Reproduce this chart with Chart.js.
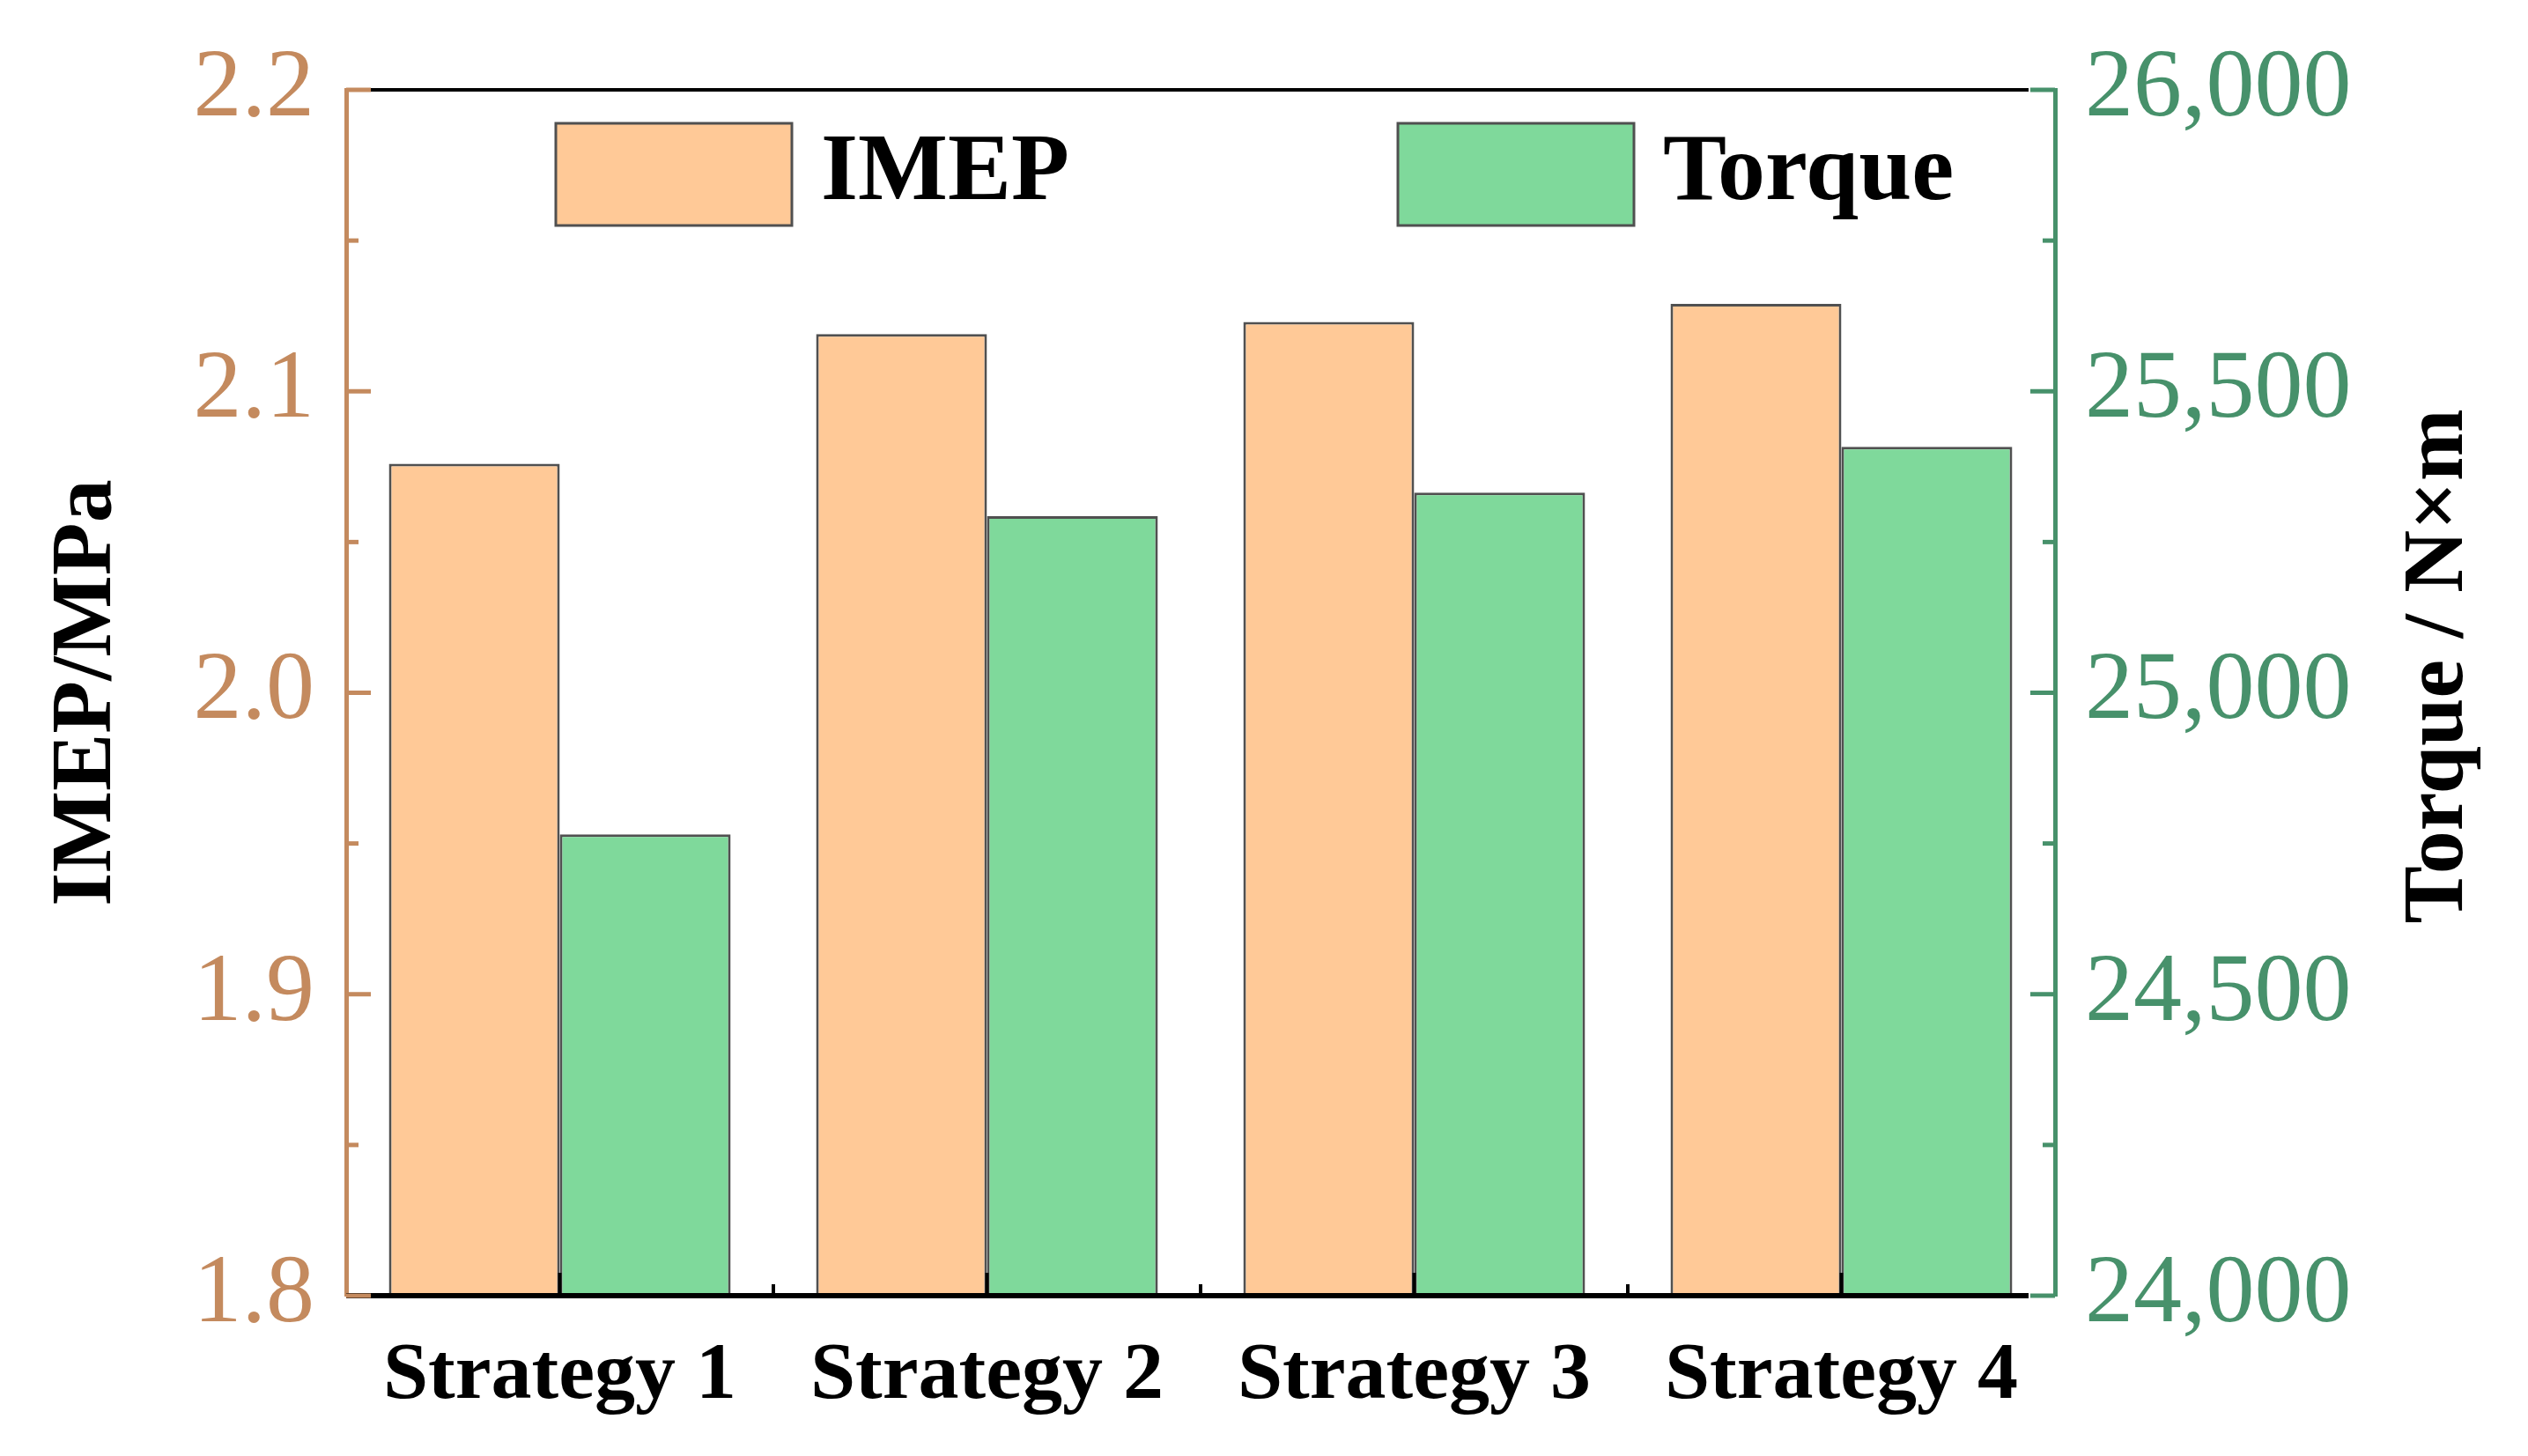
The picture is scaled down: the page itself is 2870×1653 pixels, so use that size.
<!DOCTYPE html>
<html><head><meta charset="utf-8">
<script src="https://cdn.jsdelivr.net/npm/chart.js@4.4.1/dist/chart.umd.min.js"></script>
<style>html,body{margin:0;padding:0;background:#fff}#wrap{width:2870px;height:1653px}</style>
</head><body><div id="wrap"><canvas id="c" width="2870" height="1653"></canvas></div>
<script>
const categories = ['Strategy 1', 'Strategy 2', 'Strategy 3', 'Strategy 4'];
const imepValues = [2.076, 2.119, 2.123, 2.129];
const torqueValues = [24765, 25293, 25332, 25408];
const seriesNames = ['IMEP', 'Torque'];
const leftRange = [1.8, 2.2];
const rightRange = [24000, 26000];
const leftTitle = 'IMEP/MPa';
const rightTitle = 'Torque / N×m';

const TAN = '#C48A5E';
const GREEN = '#47916B';
const FILL_ORANGE = '#FFC997';
const FILL_GREEN = '#7FD99B';
const EDGE = '#505050';
const SERIF = '"Liberation Serif", "Times New Roman", serif';

function seg(ctx, x1, y1, x2, y2) { ctx.beginPath(); ctx.moveTo(x1, y1); ctx.lineTo(x2, y2); ctx.stroke(); }

const decor = {
  id: 'decor',
  afterDatasetsDraw(chart) {
    const { ctx, chartArea: a, scales } = chart;
    const yL = scales.y, yR = scales.y1, x = scales.x;
    ctx.save();
    ctx.strokeStyle = '#000';
    ctx.lineWidth = 4;
    seg(ctx, a.left, a.top, a.right - 30, a.top);
    ctx.lineWidth = 6;
    seg(ctx, a.left, a.bottom, a.right - 30, a.bottom);
    ctx.strokeStyle = TAN; ctx.lineWidth = 5;
    const lStep = 0.05;
    for (let k = 0; k <= Math.round((leftRange[1] - leftRange[0]) / lStep); k++) {
      const v = leftRange[0] + k * lStep;
      const p = yL.getPixelForValue(v);
      seg(ctx, a.left, p, a.left + (k % 2 === 0 ? 28 : 14), p);
    }
    ctx.strokeStyle = GREEN; ctx.lineWidth = 5;
    const rStep = 250;
    for (let k = 0; k <= Math.round((rightRange[1] - rightRange[0]) / rStep); k++) {
      const v = rightRange[0] + k * rStep;
      const p = yR.getPixelForValue(v);
      seg(ctx, a.right, p, a.right - (k % 2 === 0 ? 28 : 14), p);
    }
    ctx.strokeStyle = '#000'; ctx.lineWidth = 4;
    const centers = categories.map((_, i) => x.getPixelForValue(i));
    centers.forEach(c => seg(ctx, c, a.bottom, c, a.bottom - 26));
    for (let i = 0; i < centers.length - 1; i++) {
      const b = (centers[i] + centers[i + 1]) / 2;
      seg(ctx, b, a.bottom, b, a.bottom - 13);
    }
    ctx.restore();
  },
  afterDraw(chart) {
    const { ctx, chartArea: a } = chart;
    ctx.save();
    const items = [
      { label: seriesNames[0], fill: FILL_ORANGE, bx: a.left + 238 },
      { label: seriesNames[1], fill: FILL_GREEN, bx: a.left + 1194 }
    ];
    ctx.font = 'bold 108px ' + SERIF;
    ctx.textBaseline = 'middle';
    ctx.textAlign = 'left';
    items.forEach(it => {
      const by = a.top + 38, bw = 268, bh = 116;
      ctx.fillStyle = it.fill;
      ctx.fillRect(it.bx, by, bw, bh);
      ctx.strokeStyle = EDGE; ctx.lineWidth = 3;
      ctx.strokeRect(it.bx, by, bw, bh);
      ctx.fillStyle = '#000';
      ctx.fillText(it.label, it.bx + bw + 33, by + bh / 2);
    });
    ctx.fillStyle = '#000';
    ctx.font = 'bold 98px ' + SERIF;
    ctx.textAlign = 'center';
    ctx.textBaseline = 'middle';
    ctx.save();
    ctx.translate(100, (a.top + a.bottom) / 2);
    ctx.rotate(-Math.PI / 2);
    ctx.fillText(leftTitle, 0, 0);
    ctx.restore();
    ctx.save();
    ctx.translate(2770, (a.top + a.bottom) / 2 - 30);
    ctx.rotate(-Math.PI / 2);
    ctx.fillText(rightTitle, 0, 0);
    ctx.restore();
    ctx.restore();
  }
};

new Chart(document.getElementById('c'), {
  type: 'bar',
  data: {
    labels: categories,
    datasets: [
      { label: seriesNames[0], data: imepValues, yAxisID: 'y', backgroundColor: FILL_ORANGE,
        borderColor: EDGE, borderWidth: 3, borderSkipped: false, categoryPercentage: 0.8, barPercentage: 1.0 },
      { label: seriesNames[1], data: torqueValues, yAxisID: 'y1', backgroundColor: FILL_GREEN,
        borderColor: EDGE, borderWidth: 3, borderSkipped: false, categoryPercentage: 0.8, barPercentage: 1.0 }
    ]
  },
  options: {
    responsive: false,
    animation: false,
    devicePixelRatio: 1,
    layout: { padding: { top: 97, left: 0, right: 0, bottom: 0 } },
    plugins: { legend: { display: false }, tooltip: { enabled: false } },
    scales: {
      x: {
        offset: true,
        grid: { display: false, drawTicks: false },
        border: { display: false },
        ticks: { color: '#000', font: { family: SERIF, size: 92, weight: 'bold' }, padding: 37, maxRotation: 0 },
        afterFit(s) { s.height = 182; }
      },
      y: {
        position: 'left',
        min: leftRange[0], max: leftRange[1],
        grid: { display: false, drawTicks: false },
        border: { display: true, color: TAN, width: 5 },
        ticks: { stepSize: 0.1, color: TAN, font: { family: SERIF, size: 110 }, padding: 36,
          callback: v => Number(v).toFixed(1) },
        afterFit(s) { s.width = 393; }
      },
      y1: {
        position: 'right',
        min: rightRange[0], max: rightRange[1],
        grid: { display: false, drawTicks: false },
        border: { display: true, color: GREEN, width: 5 },
        ticks: { stepSize: 500, color: GREEN, font: { family: SERIF, size: 110 }, padding: 34,
          callback: v => Number(v).toLocaleString('en-US') },
        afterFit(s) { s.width = 537; }
      }
    }
  },
  plugins: [decor]
});
</script>
</body></html>
